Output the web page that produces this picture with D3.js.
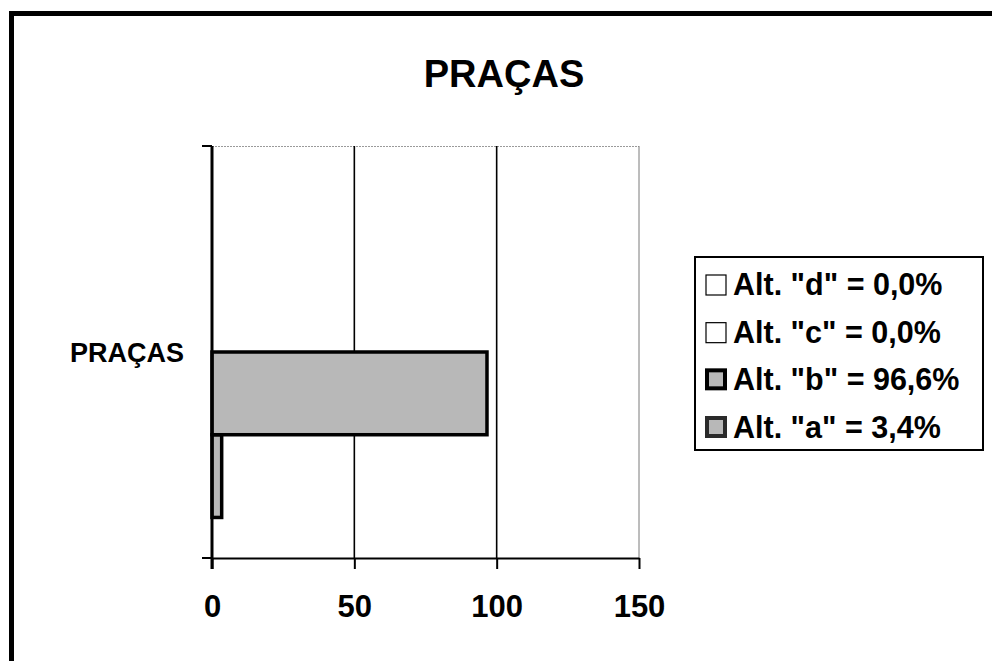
<!DOCTYPE html>
<html>
<head>
<meta charset="utf-8">
<script src="https://cdn.jsdelivr.net/npm/d3@7/dist/d3.min.js"></script>
<style>
  html, body { margin: 0; padding: 0; background: #fff; }
  svg { display: block; }
  text { font-family: "Liberation Sans", Arial, sans-serif; font-weight: bold; fill: #000; }
</style>
</head>
<body>
<svg id="chart" width="992" height="661"></svg>
<script>
// ---- data ----
const title = "PRAÇAS";
const categories = ["PRAÇAS"];
const seriesKeys = ["a", "b", "c", "d"];                 // bottom -> top in the bar group
const seriesValues = { a: [3.4], b: [96.6], c: [0.0], d: [0.0] };
const legendLabels = ['Alt. "d" = 0,0%', 'Alt. "c" = 0,0%', 'Alt. "b" = 96,6%', 'Alt. "a" = 3,4%'];
const legendKeys = ["d", "c", "b", "a"];
const xTicks = [0, 50, 100, 150];

// ---- layout ----
const svg = d3.select("#chart");
const W = 992, H = 661;
const plot = { left: 212, right: 639, top: 146, bottom: 558 };

const fills = { a: "#b8b8b8", b: "#b8b8b8", c: "#ffffff", d: "#ffffff" };

// outer frame (top and left edges visible)
svg.append("path")
  .attr("d", `M11.5,${H} V13.5 H${W}`)
  .attr("fill", "none").attr("stroke", "#000").attr("stroke-width", 5);

// title
svg.append("text")
  .attr("x", 504).attr("y", 87)
  .attr("text-anchor", "middle")
  .attr("font-size", 38)
  .text(title);

const x = d3.scaleLinear().domain([0, 150]).range([plot.left, plot.right]);
const y = d3.scaleBand().domain(categories).range([plot.bottom, plot.top]);
const yInner = d3.scaleBand().domain(legendKeys).range([0, y.bandwidth()])
  .paddingInner(0).paddingOuter(0.49);

// plot border (top, light gray)
svg.append("line")
  .attr("x1", plot.left).attr("x2", plot.right)
  .attr("y1", plot.top + 0.5).attr("y2", plot.top + 0.5)
  .attr("stroke", "#9a9a9a").attr("stroke-width", 1).attr("stroke-dasharray", "2,1");

// vertical gridlines
svg.append("g").selectAll("line")
  .data(xTicks.slice(1))
  .join("line")
  .attr("x1", d => x(d)).attr("x2", d => x(d))
  .attr("y1", plot.top).attr("y2", plot.bottom)
  .attr("stroke", d => d === 150 ? "#7a7a7a" : "#000")
  .attr("stroke-width", d => d === 150 ? 1 : 1.6);

// bars
const gBars = svg.append("g");
categories.forEach((cat, ci) => {
  seriesKeys.forEach(k => {
    const v = seriesValues[k][ci];
    gBars.append("rect")
      .attr("x", x(0))
      .attr("y", y(cat) + yInner(k))
      .attr("width", x(v) - x(0))
      .attr("height", yInner.bandwidth())
      .attr("fill", fills[k])
      .attr("stroke", "#000")
      .attr("stroke-width", v > 0 ? 3.5 : 0);
  });
});

// x axis
const xAxis = d3.axisBottom(x).tickValues(xTicks).tickSize(11).tickPadding(26).tickSizeOuter(0);
const gx = svg.append("g").attr("transform", `translate(0,${plot.bottom})`).call(xAxis);
gx.select(".domain").attr("stroke", "#000").attr("stroke-width", 2);
gx.selectAll(".tick line").attr("stroke", "#000").attr("stroke-width", 2);
gx.selectAll(".tick text")
  .attr("font-size", 31)
  .attr("font-family", '"Liberation Sans", Arial, sans-serif')
  .attr("font-weight", "bold")
  .attr("fill", "#000");

// y axis line
svg.append("line")
  .attr("x1", plot.left).attr("x2", plot.left)
  .attr("y1", plot.top).attr("y2", plot.bottom + 11)
  .attr("stroke", "#000").attr("stroke-width", 3);

// category boundary ticks on y axis
svg.append("g").selectAll("line")
  .data([plot.top, plot.bottom])
  .join("line")
  .attr("x1", plot.left - 10).attr("x2", plot.left)
  .attr("y1", d => d).attr("y2", d => d)
  .attr("stroke", "#000").attr("stroke-width", 2);

// category labels
svg.append("g").selectAll("text")
  .data(categories)
  .join("text")
  .attr("x", 184)
  .attr("y", d => y(d) + y.bandwidth() / 2)
  .attr("dy", "0.36em")
  .attr("text-anchor", "end")
  .attr("font-size", 27)
  .text(d => d);

// legend
const lg = svg.append("g");
lg.append("rect")
  .attr("x", 695).attr("y", 257).attr("width", 288).attr("height", 193)
  .attr("fill", "#fff").attr("stroke", "#000").attr("stroke-width", 2);

const rowY = d3.scalePoint().domain(legendKeys).range([295, 438]);
legendKeys.forEach((k, i) => {
  const by = rowY(k);
  const strong = seriesValues[k][0] > 0;
  lg.append("rect")
    .attr("x", strong ? 707 : 706).attr("y", by - 20)
    .attr("width", strong ? 18 : 20).attr("height", strong ? 18 : 20)
    .attr("fill", fills[k])
    .attr("stroke", k === "a" ? "#2a2a2a" : "#000")
    .attr("stroke-width", strong ? 4 : 1.2);
  lg.append("text")
    .attr("x", 733).attr("y", by)
    .attr("font-size", 30.5)
    .text(legendLabels[i]);
});
</script>
</body>
</html>
